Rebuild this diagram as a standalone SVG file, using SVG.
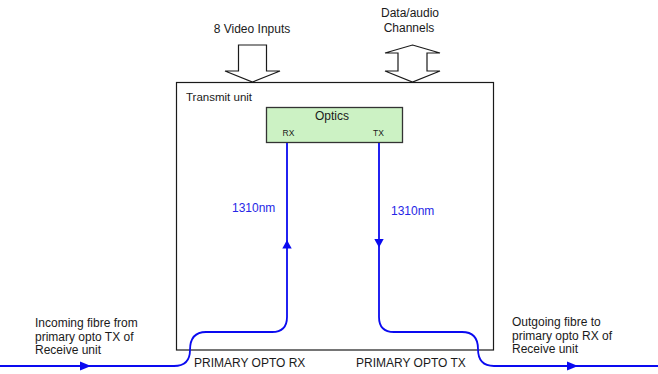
<svg xmlns="http://www.w3.org/2000/svg" width="658" height="374" viewBox="0 0 658 374">
<style>
text{font-family:"Liberation Sans",Arial,sans-serif;fill:#1a1a1a}
.t12{font-size:12px}
.mid{text-anchor:middle}
.blk{fill:#fff;stroke:#1a1a1a;stroke-width:1.2}
.unit{fill:#fff;stroke:#1a1a1a;stroke-width:1.2}
.optics{fill:#ccf2c4;stroke:#333;stroke-width:1.3}
.fibre{fill:none;stroke:#0a0af0;stroke-width:1.8}
.head{fill:#0a0af0;stroke:none}
.blue{fill:#2626e6}
</style>
<rect width="658" height="374" fill="#fff"/>
<g id="video-inputs">
<polygon class="blk" points="238.5,45 266.5,45 266.5,71 280,71 252.5,82 225,71 238.5,71"/>
<text class="t12 mid" x="252" y="33">8 Video Inputs</text>
</g>
<g id="data-audio">
<polygon class="blk" points="412.5,45 440,53 427,53 427,71 440,71 412.5,82 385,71 398,71 398,53 385,53"/>
<text class="t12 mid" x="410" y="17">Data/audio</text>
<text class="t12 mid" x="409" y="32">Channels</text>
</g>
<g id="transmit-unit">
<rect class="unit" x="176.5" y="82.5" width="317" height="267.5"/>
<text x="186" y="101" style="font-size:11.5px">Transmit unit</text>
</g>
<g id="optics">
<rect class="optics" x="266.5" y="107.5" width="136" height="35"/>
<text class="mid" x="332" y="119.5" style="font-size:12px">Optics</text>
<text x="282.5" y="135.5" style="font-size:8.5px">RX</text>
<text x="373" y="135.5" style="font-size:8.5px">TX</text>
</g>
<g id="connectors">
<path class="fibre" d="M0 366 H174 Q190 366 190 350 Q190 332 206 332 H272 Q287 332 287 317 V143"/>
<path class="fibre" d="M379 143 V317 Q379 332 394 332 H462 Q478 332 478 349 Q478 366 494 366 H658"/>
<polygon class="head" points="91,366 80,361.5 80,370.5"/>
<polygon class="head" points="578,366 567,361.5 567,370.5"/>
<polygon class="head" points="287,240 282.3,248.5 291.7,248.5"/>
<polygon class="head" points="379,247.5 374.3,239 383.7,239"/>
</g>
<g id="labels">
<text class="t12 blue" x="232" y="212">1310nm</text>
<text class="t12 blue" x="391" y="215">1310nm</text>
<text class="t12" x="35" y="327">Incoming fibre from</text>
<text class="t12" x="35" y="340.5">primary opto TX of</text>
<text class="t12" x="35" y="354">Receive unit</text>
<text class="t12" x="512" y="326">Outgoing fibre to</text>
<text class="t12" x="512" y="339.5">primary opto RX of</text>
<text class="t12" x="512" y="353">Receive unit</text>
<text class="t12" x="194" y="367">PRIMARY OPTO RX</text>
<text class="t12" x="356" y="367">PRIMARY OPTO TX</text>
</g>
</svg>
